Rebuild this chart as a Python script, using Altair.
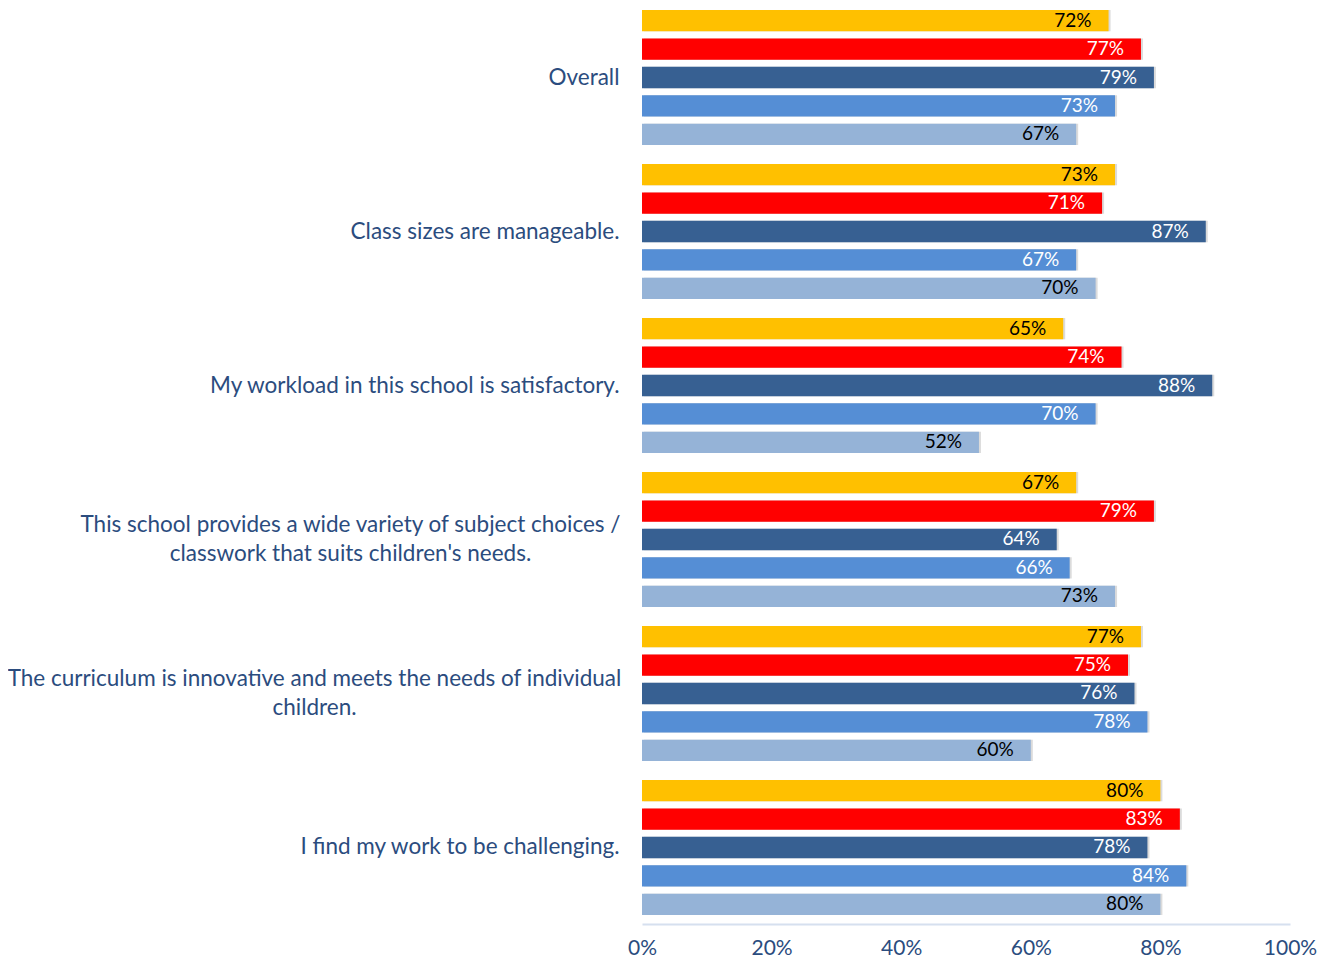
import altair as alt
import pandas as pd

categories = [
    "Overall",
    "Class sizes are manageable.",
    "My workload in this school is satisfactory.",
    "This school provides a wide variety of subject choices /|classwork that suits children's needs.",
    "The curriculum is innovative and meets the needs of individual|children.",
    "I find my work to be challenging.",
]
series = ["Series 1", "Series 2", "Series 3", "Series 4", "Series 5"]
series_colors = ["#FFC000", "#FF0000", "#376092", "#558ED5", "#95B3D7"]
label_colors = ["#000000", "#FFFFFF", "#FFFFFF", "#FFFFFF", "#000000"]

s1 = [0.72, 0.73, 0.65, 0.67, 0.77, 0.80]
s2 = [0.77, 0.71, 0.74, 0.79, 0.75, 0.83]
s3 = [0.79, 0.87, 0.88, 0.64, 0.76, 0.78]
s4 = [0.73, 0.67, 0.70, 0.66, 0.78, 0.84]
s5 = [0.67, 0.70, 0.52, 0.73, 0.60, 0.80]

rows = []
for name, vals in zip(series, [s1, s2, s3, s4, s5]):
    for c, v in zip(categories, vals):
        rows.append({"category": c, "series": name, "value": v})
df = pd.DataFrame(rows)

FONT = "Lato"
TXT = "#2B4C7E"

y_enc = alt.Y(
    "category:N",
    sort=categories,
    scale=alt.Scale(paddingInner=0.123, paddingOuter=0),
    axis=alt.Axis(
        title=None,
        domain=False,
        ticks=False,
        labelExpr="split(datum.label, '|')",
        labelFontSize=22.5,
        labelFont=FONT,
        labelColor=TXT,
        labelLimit=800,
        labelLineHeight=29,
        labelBaseline="middle",
        labelAlign={"condition": {"test": "indexof(datum.value, '|') >= 0", "value": "center"},
                    "value": "right"},
        labelOffset={"condition": {"test": "indexof(datum.value, '|') >= 0", "value": -14.5},
                     "value": 0},
        labelPadding={"condition": [
            {"test": "indexof(datum.value, 'This school') == 0", "value": 292},
            {"test": "indexof(datum.value, 'The curriculum') == 0", "value": 328},
        ], "value": 23},
    ),
)
yoff = alt.YOffset(
    "series:N",
    sort=series,
    scale=alt.Scale(paddingInner=0.25, paddingOuter=0),
)
x_enc = alt.X(
    "value:Q",
    scale=alt.Scale(domain=[0, 1], nice=False),
    axis=alt.Axis(
        title=None,
        values=[0, 0.2, 0.4, 0.6, 0.8, 1.0],
        format=".0%",
        grid=False,
        ticks=False,
        domainColor="#D6E0EF",
        domainWidth=2,
        offset=9,
        labelFlush=False,
        labelFontSize=21,
        labelFont=FONT,
        labelColor=TXT,
        labelBaseline="alphabetic",
        labelPadding=30,
    ),
)

base = alt.Chart(df)

shadow = base.mark_bar(color="#7F7F7F", opacity=0.28, xOffset=2, x2Offset=2,
                       yOffset=2, y2Offset=2).encode(
    x=x_enc,
    y=y_enc,
    yOffset=yoff,
)

bars = base.mark_bar().encode(
    x=alt.X("value:Q"),
    y=alt.Y("category:N", sort=categories),
    yOffset=alt.YOffset("series:N", sort=series),
    color=alt.Color("series:N", sort=series,
                    scale=alt.Scale(domain=series, range=series_colors), legend=None),
)

labels = base.mark_text(align="right", baseline="middle", dx=-17, fontSize=19, font=FONT).encode(
    x=alt.X("value:Q"),
    y=alt.Y("category:N", sort=categories),
    yOffset=alt.YOffset("series:N", sort=series),
    text=alt.Text("value:Q", format=".0%"),
    color=alt.Color("series:N", sort=series,
                    scale=alt.Scale(domain=series, range=label_colors), legend=None),
)

chart = (
    alt.layer(shadow, bars, labels)
    .resolve_scale(color="independent")
    .properties(
        width=648,
        height=905,
        autosize=alt.AutoSizeParams(type="none"),
        padding={"left": 634, "top": 2, "right": 32, "bottom": 44},
    )
    .configure_view(stroke=None)
)

chart.save("out.html", embed_options={"renderer": "svg", "actions": False})
